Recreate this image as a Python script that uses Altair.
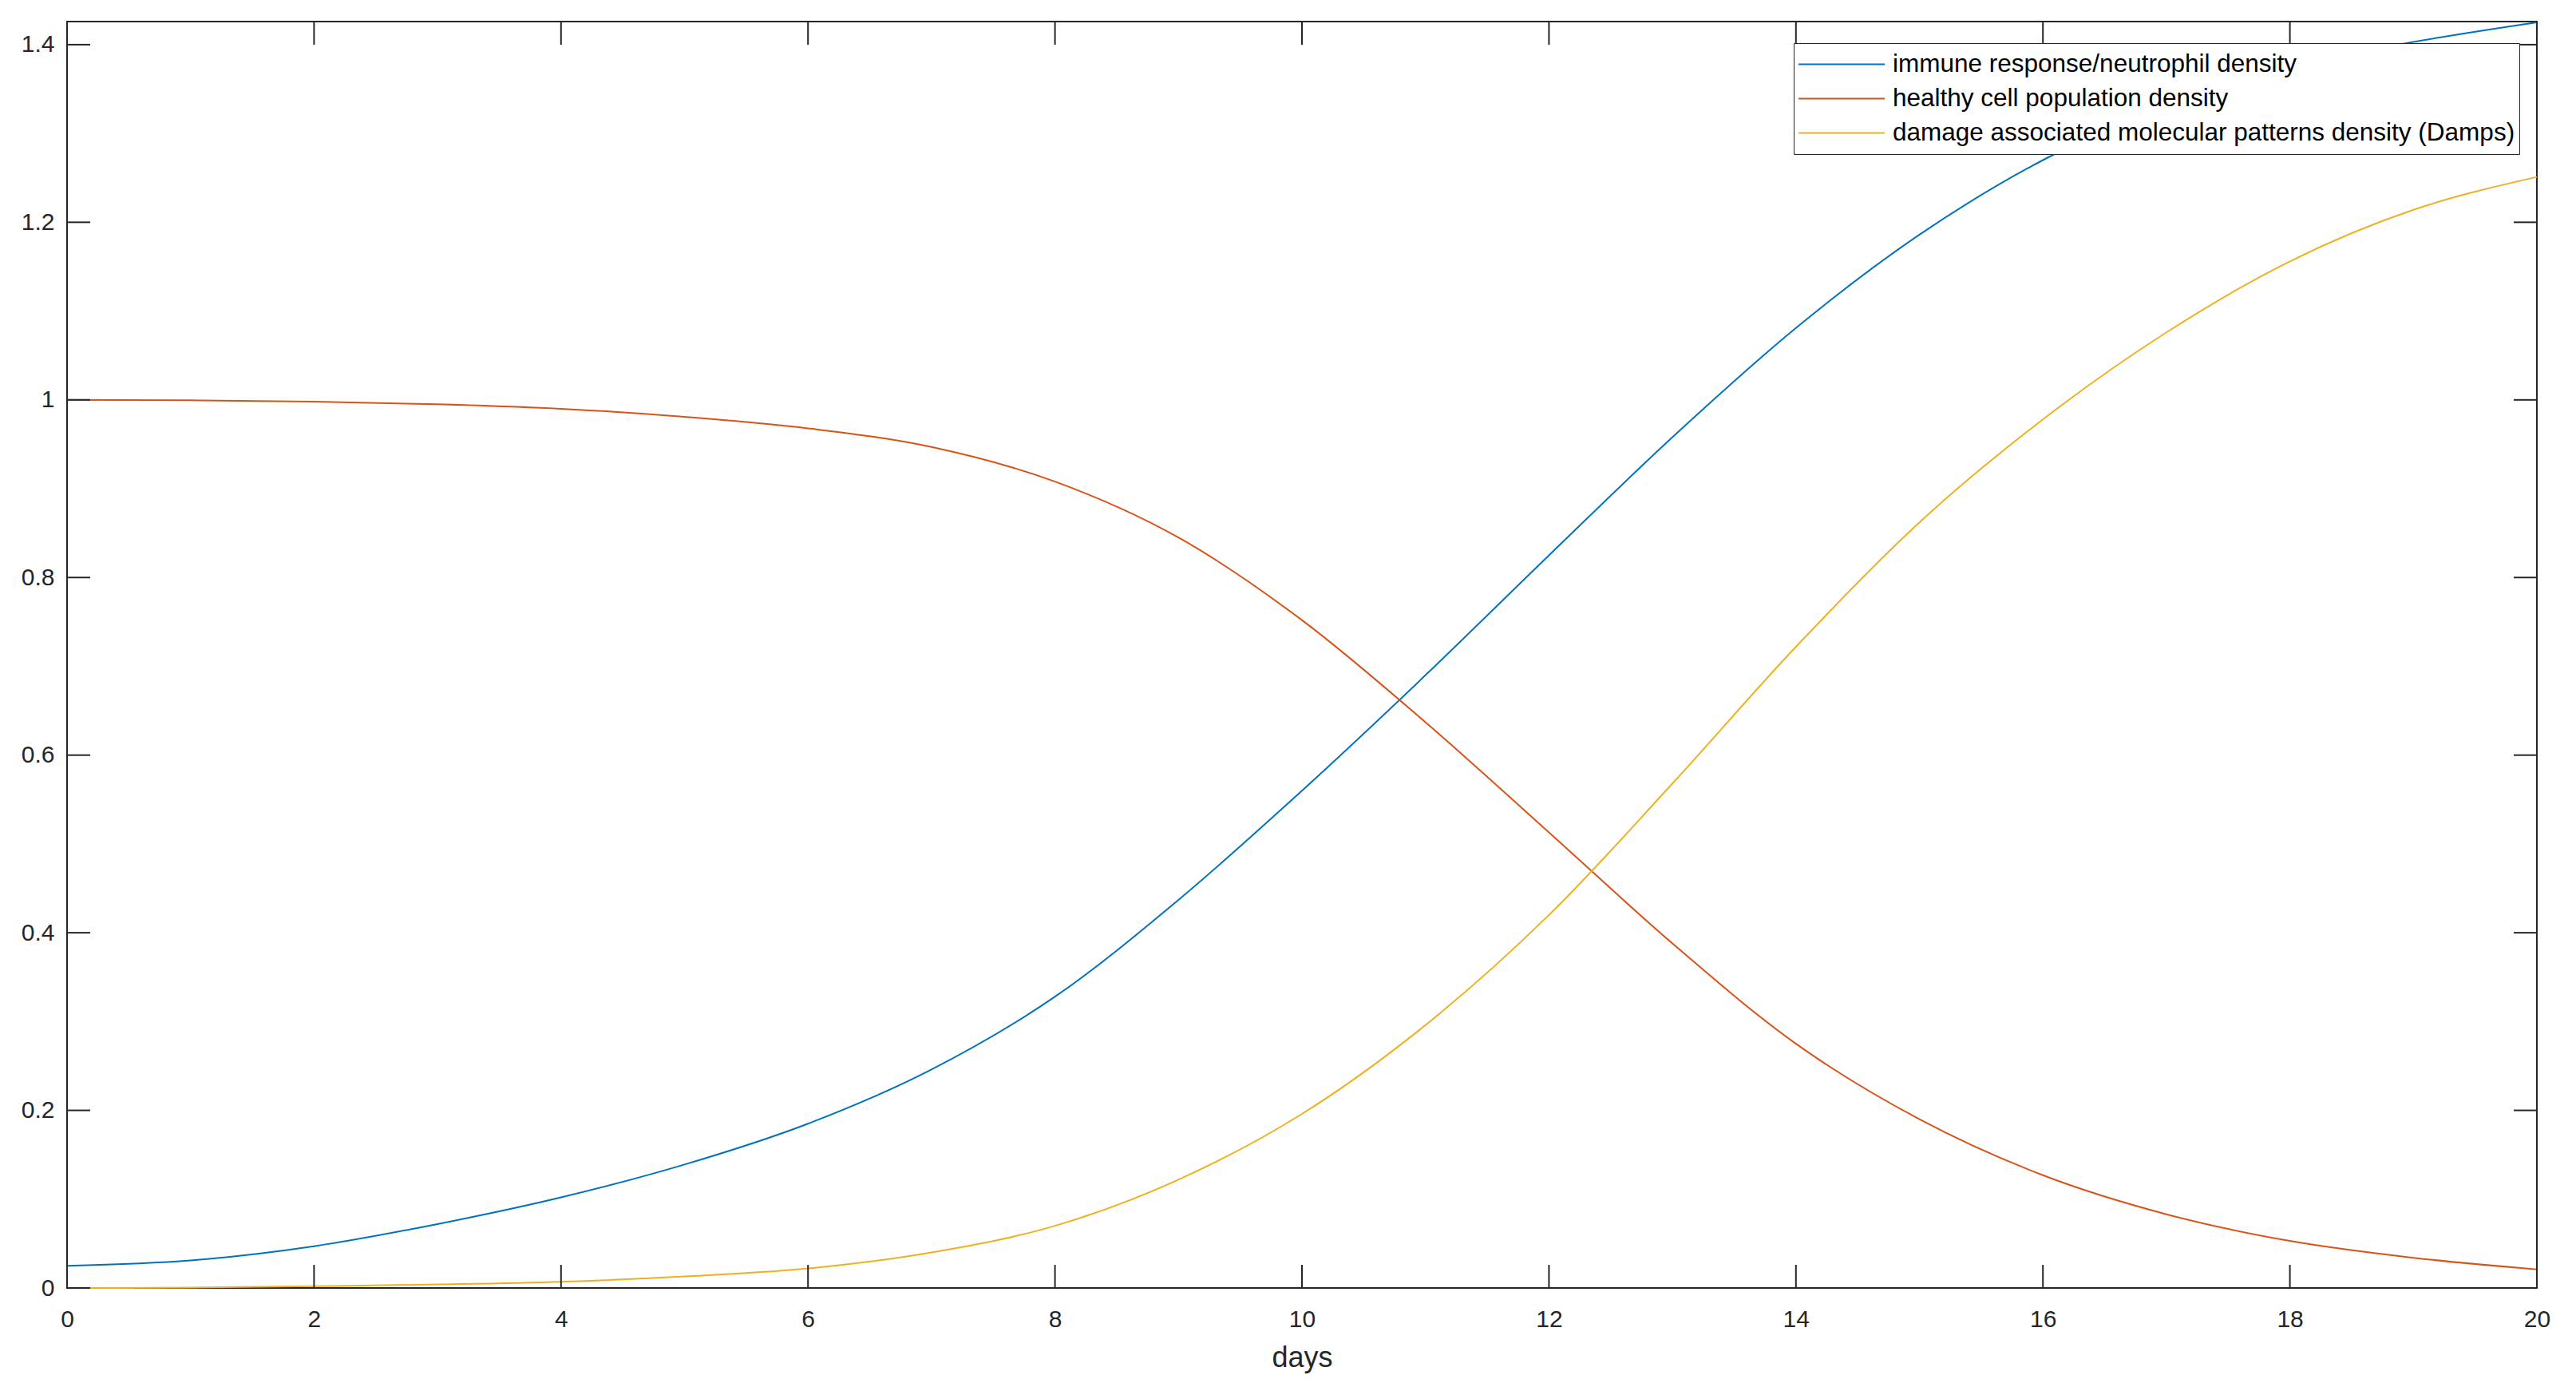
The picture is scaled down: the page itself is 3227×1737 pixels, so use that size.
import altair as alt
import pandas as pd

# ---- data ----
days = [0, 1, 2, 3, 4, 5, 6, 7, 8, 9, 10, 11, 12, 13, 14, 15, 16, 17, 18, 19, 20]
immune = [0.025, 0.031, 0.047, 0.072, 0.102, 0.139, 0.185, 0.246, 0.328, 0.437, 0.560,
          0.690, 0.825, 0.958, 1.081, 1.186, 1.270, 1.332, 1.376, 1.403, 1.425]
healthy = [1.000, 0.9995, 0.998, 0.995, 0.990, 0.981, 0.968, 0.947, 0.908, 0.845, 0.752,
           0.637, 0.513, 0.388, 0.275, 0.190, 0.127, 0.083, 0.053, 0.034, 0.021]
damps = [0.000, 0.0005, 0.002, 0.004, 0.007, 0.013, 0.022, 0.040, 0.070, 0.122, 0.196,
         0.296, 0.420, 0.568, 0.722, 0.862, 0.978, 1.076, 1.156, 1.214, 1.251]

series_names = [
    "immune response/neutrophil density",
    "healthy cell population density",
    "damage associated molecular patterns density (Damps)",
]
series_colors = ["#0072BD", "#D95319", "#EDB120"]
x_ticks = [0, 2, 4, 6, 8, 10, 12, 14, 16, 18, 20]
y_ticks = [0, 0.2, 0.4, 0.6, 0.8, 1, 1.2, 1.4]
x_title = "days"

rows = []
for name, vals in zip(series_names, [immune, healthy, damps]):
    for d, v in zip(days, vals):
        rows.append({"day": d, "value": v, "series": name})
df = pd.DataFrame(rows)
xt = pd.DataFrame({"day": x_ticks})
yt = pd.DataFrame({"value": y_ticks})

# ---- layout / style ----
W, H = 3094, 1586
TL = 29
FONT = "Liberation Sans"
AX = "#262626"

xscale = alt.Scale(domain=[0, 20], nice=False, zero=False)
yscale = alt.Scale(domain=[0, 1.426], nice=False, zero=False)

lines = alt.Chart(df).mark_line(strokeWidth=2, interpolate="monotone").encode(
    x=alt.X("day:Q", scale=xscale,
            axis=alt.Axis(values=x_ticks, title=x_title, ticks=False, domain=False, grid=False,
                          labelFontSize=30, labelPadding=24, labelColor=AX, labelFont=FONT,
                          labelFlush=False,
                          titleFontSize=36, titleFontWeight="normal", titleColor=AX,
                          titleFont=FONT, titlePadding=16, format="d")),
    y=alt.Y("value:Q", scale=yscale,
            axis=alt.Axis(values=y_ticks, title=None, ticks=False, domain=False, grid=False,
                          labelFontSize=30, labelPadding=16, labelColor=AX, labelFont=FONT,
                          labelFlush=False, format=".1~f")),
    color=alt.Color("series:N", sort=series_names,
                    scale=alt.Scale(domain=series_names, range=series_colors),
                    legend=alt.Legend(orient="none", legendX=2163, legendY=27, title=None,
                                      symbolType="stroke", symbolSize=11664,
                                      symbolStrokeWidth=2, clipHeight=43, rowPadding=0,
                                      labelFontSize=31.5, labelFont=FONT, labelColor="black",
                                      labelOffset=9, labelLimit=0, padding=5,
                                      strokeColor=AX, fillColor="white")),
)

tick_style = dict(color=AX, strokeWidth=2)
bottom = alt.Chart(xt).mark_rule(**tick_style).encode(
    x=alt.X("day:Q", scale=xscale), y=alt.value(H), y2=alt.value(H - TL))
top = alt.Chart(xt).mark_rule(**tick_style).encode(
    x=alt.X("day:Q", scale=xscale), y=alt.value(0), y2=alt.value(TL))
left = alt.Chart(yt).mark_rule(**tick_style).encode(
    y=alt.Y("value:Q", scale=yscale), x=alt.value(0), x2=alt.value(TL))
right = alt.Chart(yt).mark_rule(**tick_style).encode(
    y=alt.Y("value:Q", scale=yscale), x=alt.value(W), x2=alt.value(W - TL))

chart = alt.layer(lines, bottom, top, left, right).properties(
    width=W, height=H,
    background="white",
    autosize=alt.AutoSizeParams(type="none"),
    padding={"left": 76, "top": 19, "right": 30, "bottom": 116},
).configure_view(stroke=AX, strokeWidth=2)

chart.save("out.html", embed_options={"renderer": "svg", "actions": False})
